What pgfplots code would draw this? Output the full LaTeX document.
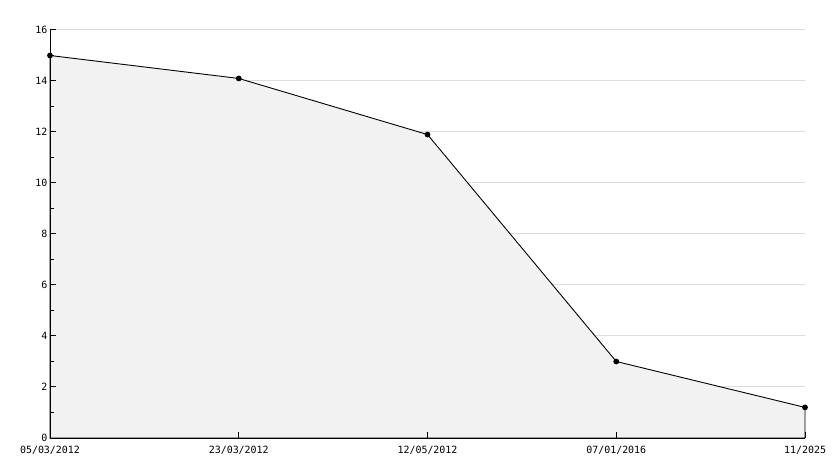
\documentclass[border=0pt]{standalone}
\usepackage{fontspec}
\setmainfont{DejaVu Sans Mono}
\usepackage{pgfplots}
\pgfplotsset{compat=1.18}
\definecolor{areafill}{RGB}{242,242,242}
\definecolor{gridgray}{RGB}{220,220,220}
\pgfplotsset{
    layers/gridbelow/.define layer set={
        axis background,axis grid,main,axis ticks,axis lines,
        axis tick labels,axis descriptions,axis foreground
    }{/pgfplots/layers/standard},
}

\begin{document}
\begin{tikzpicture}[x=1bp,y=1bp]
\begin{axis}[
    set layers=gridbelow,
    at={(0,0)}, anchor=origin,
    scale only axis,
    width=755bp, height=408bp,
    xmin=0, xmax=4, ymin=0, ymax=16,
    axis x line*=bottom, axis y line*=left,
    axis line style={line width=1bp, -},
    xtick={0,1,2,3,4},
    xticklabels={05/03/2012, 23/03/2012, 12/05/2012, 07/01/2016, 11/2025},
    ytick={0,2,...,16},
    minor ytick={1,3,...,15},
    tick align=inside,
    major tick length=6bp, minor tick length=4bp,
    tick style={black, line width=1bp},
    ymajorgrids, grid style={gridgray, line width=1bp},
    ticklabel style={font=\fontsize{10}{10}\selectfont},
    xticklabel style={yshift=-5bp},
    yticklabel style={xshift=1bp},
    /pgf/number format/assume math mode=true,
    clip=false,
]
\addplot[fill=areafill, draw=black, line width=0.9bp, mark=*, mark size=2.4bp,
    mark options={fill=black}] coordinates {
    (0,15.0) (1,14.1) (2,11.9) (3,3.0) (4,1.2)
} \closedcycle;
\end{axis}
\path (-50bp,-30bp) rectangle (784bp,438bp);
\end{tikzpicture}
\end{document}
